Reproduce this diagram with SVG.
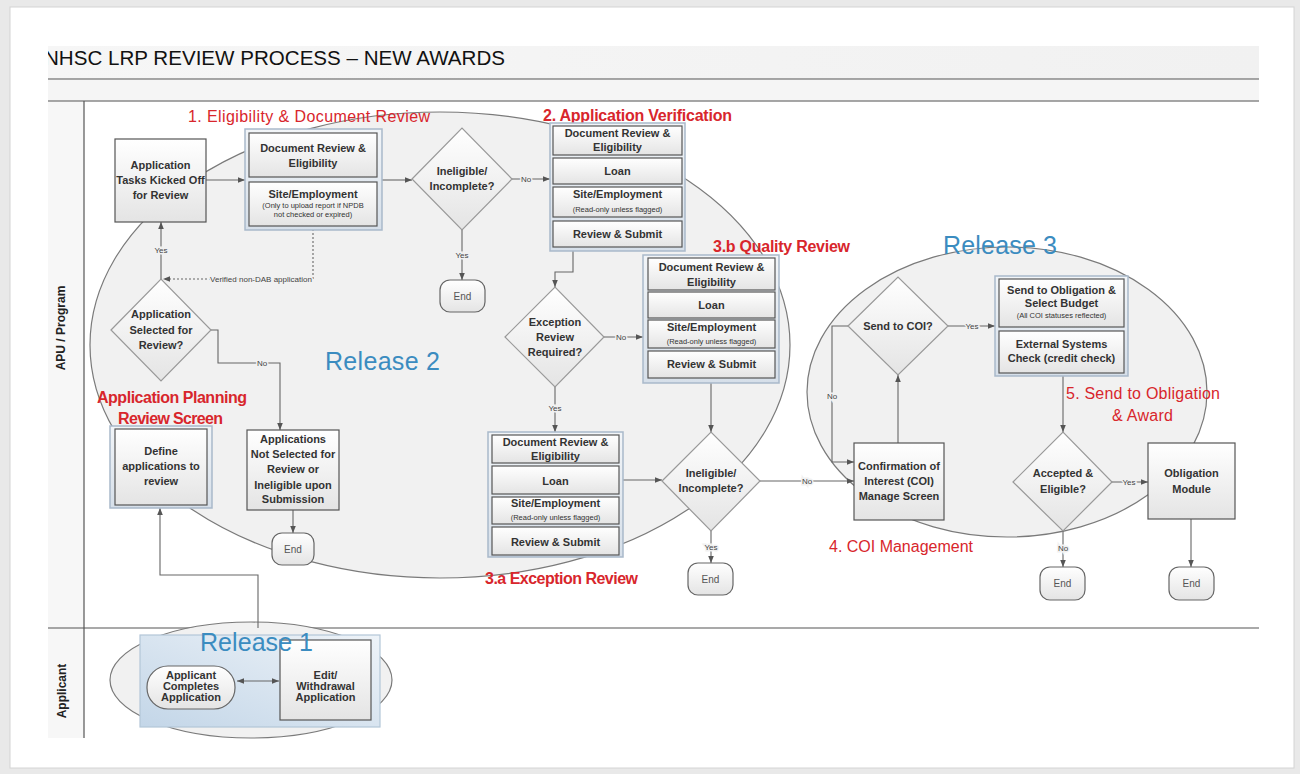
<svg xmlns="http://www.w3.org/2000/svg" width="1300" height="774" viewBox="0 0 1300 774">
<defs>
<linearGradient id="nodeG" x1="0" y1="0" x2="0" y2="1"><stop offset="0" stop-color="#ffffff"/><stop offset="1" stop-color="#e4e4e4"/></linearGradient>
<linearGradient id="grpG" x1="0" y1="0" x2="0" y2="1"><stop offset="0" stop-color="#f2f5f8"/><stop offset="1" stop-color="#d6dfe9"/></linearGradient>
<linearGradient id="r1G" x1="1" y1="0" x2="0" y2="1"><stop offset="0" stop-color="#eef3f8"/><stop offset="1" stop-color="#c3d6e8"/></linearGradient>
<linearGradient id="bandG" x1="0" y1="0" x2="1" y2="0"><stop offset="0" stop-color="#f6f6f6"/><stop offset="1" stop-color="#f1f1f1"/></linearGradient>
<marker id="ah" viewBox="0 0 10 10" refX="10" refY="5" markerWidth="7" markerHeight="7" markerUnits="userSpaceOnUse" orient="auto-start-reverse"><path d="M0,1 L10,5 L0,9 z" fill="#555"/></marker>
<clipPath id="titleClip"><rect x="48" y="30" width="1220" height="50"/></clipPath>
<style>
.ln{fill:none;stroke:#666;stroke-width:1.1}
.dash{fill:none;stroke:#666;stroke-width:1.1;stroke-dasharray:2 2}
.box{fill:url(#nodeG);stroke:#555;stroke-width:1.2}
.grp{fill:url(#grpG);stroke:#a9b9ca;stroke-width:1.5}
.dia{fill:url(#nodeG);stroke:#999;stroke-width:1.2}
.end{fill:url(#nodeG);stroke:#666;stroke-width:1.2}
.ell{fill:#f1f1f1;stroke:#7a7a7a;stroke-width:1.2}
.t{font-family:"Liberation Sans",Arial,sans-serif;font-weight:bold;font-size:11px;fill:#333;text-anchor:middle}
.s{font-weight:normal;font-size:7.5px}
.e{font-weight:normal;font-size:10px;fill:#555}
.lbl{font-family:"Liberation Sans",Arial,sans-serif;font-size:8px;fill:#444;text-anchor:middle;stroke:#f1f1f1;stroke-width:3;paint-order:stroke}
.red{font-family:"Liberation Sans",Arial,sans-serif;font-size:16px;fill:#d8262c}
.rb{font-weight:bold}
.rel{font-family:"Liberation Sans",Arial,sans-serif;font-size:25px;fill:#3b8cc0}
.lane{font-family:"Liberation Sans",Arial,sans-serif;font-weight:bold;font-size:12px;fill:#222;text-anchor:middle}
</style>
</defs>

<!-- page -->
<rect x="0" y="0" width="1300" height="774" fill="#e9e9e9"/>
<rect x="10" y="7" width="1284" height="761" fill="#ffffff" stroke="#d4d4d4" stroke-width="1"/>

<!-- title band -->
<rect x="48" y="46" width="1211" height="33" fill="url(#bandG)"/>
<rect x="48" y="80" width="1211" height="21" fill="#f5f5f5"/>
<text x="44" y="65" clip-path="url(#titleClip)" font-family="'Liberation Sans',Arial,sans-serif" font-size="20.5" fill="#111" textLength="461" lengthAdjust="spacingAndGlyphs">NHSC LRP REVIEW PROCESS – NEW AWARDS</text>
<line x1="48" y1="79" x2="1259" y2="79" stroke="#888" stroke-width="1.6"/>
<line x1="48" y1="101" x2="1259" y2="101" stroke="#888" stroke-width="1.6"/>

<!-- lanes -->
<g id="lanes">
<rect x="48" y="102" width="36" height="636" fill="#f7f7f7"/>
<line x1="84" y1="101" x2="84" y2="738" stroke="#555" stroke-width="1.2"/>
<line x1="48" y1="628" x2="1259" y2="628" stroke="#555" stroke-width="1.2"/>
<text class="lane" transform="translate(65,328) rotate(-90)">APU / Program</text>
<text class="lane" transform="translate(66,691) rotate(-90)">Applicant</text>
</g>

<!-- release regions -->
<g id="release2-region"><ellipse class="ell" cx="440" cy="345" rx="350" ry="233"/></g>
<g id="release3-region"><ellipse class="ell" cx="1007" cy="392" rx="200" ry="145"/></g>
<g id="release1-region">
<ellipse class="ell" cx="251" cy="680" rx="141" ry="58" fill="#f5f5f5"/>
<rect x="140" y="635" width="240" height="92" fill="url(#r1G)" stroke="#b3c6d8" stroke-width="1.2"/>
</g>

<!-- section labels -->
<g id="labels">
<text class="red" x="188" y="122" textLength="242">1. Eligibility &amp; Document Review</text>
<text class="red rb" x="543" y="121" textLength="189">2. Application Verification</text>
<text class="red rb" x="713" y="252" textLength="137">3.b Quality Review</text>
<text class="red rb" x="485" y="584" textLength="153">3.a Exception Review</text>
<text class="red" x="829" y="552" textLength="144">4. COI Management</text>
<text class="red" x="1066" y="399" textLength="154">5. Send to Obligation</text>
<text class="red" x="1112" y="421" textLength="61">&amp; Award</text>
<text class="red rb" x="97" y="403" textLength="150">Application Planning</text>
<text class="red rb" x="118" y="424" textLength="105">Review Screen</text>
<text class="rel" x="325" y="370" textLength="115">Release 2</text>
<text class="rel" x="943" y="254" textLength="114">Release 3</text>
</g>

<!-- connectors -->
<g id="connectors">
<path class="ln" d="M206,180 H245" marker-end="url(#ah)"/>
<path class="ln" d="M382,180 H412" marker-end="url(#ah)"/>
<path class="ln" d="M512,179 H550" marker-end="url(#ah)"/>
<text class="lbl" x="526" y="182">No</text>
<path class="ln" d="M462,230 V280" marker-end="url(#ah)"/>
<text class="lbl" x="462" y="258">Yes</text>
<path class="ln" d="M573,251 V272 H555 V287" marker-end="url(#ah)"/>
<path class="ln" d="M604,337 H643" marker-end="url(#ah)"/>
<text class="lbl" x="621" y="340">No</text>
<path class="ln" d="M555,387 V432" marker-end="url(#ah)"/>
<text class="lbl" x="555" y="411">Yes</text>
<path class="ln" d="M711,383 V432" marker-end="url(#ah)"/>
<path class="ln" d="M623,480 H662" marker-end="url(#ah)"/>
<path class="ln" d="M711,531 V563" marker-end="url(#ah)"/>
<text class="lbl" x="711" y="550" stroke="#fbfbfb">Yes</text>
<path class="ln" d="M760,481 H854" marker-end="url(#ah)"/>
<text class="lbl" x="807" y="484" stroke="#fbfbfb">No</text>
<path class="ln" d="M898,443 V375" marker-end="url(#ah)"/>
<path class="ln" d="M948,326 H995" marker-end="url(#ah)"/>
<text class="lbl" x="972" y="329">Yes</text>
<path class="ln" d="M848,326 H832 V462 H854" marker-end="url(#ah)"/>
<text class="lbl" x="832" y="399">No</text>
<path class="ln" d="M1063,376 V432" marker-end="url(#ah)"/>
<path class="ln" d="M1112,482 H1148" marker-end="url(#ah)"/>
<text class="lbl" x="1129" y="485">Yes</text>
<path class="ln" d="M1063,531 V567" marker-end="url(#ah)"/>
<text class="lbl" x="1063" y="551" stroke="#fbfbfb">No</text>
<path class="ln" d="M1191,519 V567" marker-end="url(#ah)"/>
<path class="ln" d="M161,279 V222" marker-end="url(#ah)"/>
<text class="lbl" x="161" y="253">Yes</text>
<path class="dash" d="M313,229 V279 H163" marker-end="url(#ah)"/>
<text class="lbl" x="261" y="282">Verified non-DAB application</text>
<path class="ln" d="M211,330 H218 V363 H280 V430" marker-end="url(#ah)"/>
<text class="lbl" x="262" y="366">No</text>
<path class="ln" d="M293,510 V533" marker-end="url(#ah)"/>
<path class="ln" d="M258,628 V575 H160 V508" marker-end="url(#ah)"/>
<path class="ln" d="M237,681 H279" marker-start="url(#ah)" marker-end="url(#ah)"/>
</g>

<!-- nodes: Release 2 -->
<g id="tasks-kicked-off">
<rect class="box" x="115" y="139" width="91" height="83"/>
<text class="t" x="160.5" y="169">Application</text>
<text class="t" x="160.5" y="184">Tasks Kicked Off</text>
<text class="t" x="160.5" y="199">for Review</text>
</g>

<g id="group1-doc-review">
<rect class="grp" x="245" y="129" width="137" height="101"/>
<rect class="box" x="249" y="133" width="128" height="44"/>
<text class="t" x="313" y="152">Document Review &amp;</text>
<text class="t" x="313" y="167">Eligibility</text>
<rect class="box" x="249" y="182" width="128" height="44"/>
<text class="t" x="313" y="198" font-size="11.5">Site/Employment</text>
<text class="t s" x="313" y="208">(Only to upload report if NPDB</text>
<text class="t s" x="313" y="217">not checked or expired)</text>
</g>

<g id="dia-ineligible-1">
<polygon class="dia" points="412,179 462,128 512,179 462,230"/>
<text class="t" x="462" y="175">Ineligible/</text>
<text class="t" x="462" y="190">Incomplete?</text>
</g>

<g id="end-1">
<rect class="end" x="440" y="280" width="45" height="32" rx="10"/>
<text class="t e" x="462.5" y="299.5">End</text>
</g>

<g id="group2-app-verification">
<rect class="grp" x="550" y="123" width="135" height="128"/>
<rect class="box" x="553" y="126" width="129" height="29"/>
<text class="t" x="617.5" y="137">Document Review &amp;</text>
<text class="t" x="617.5" y="151">Eligibility</text>
<rect class="box" x="553" y="158" width="129" height="26"/>
<text class="t" x="617.5" y="175">Loan</text>
<rect class="box" x="553" y="187" width="129" height="30"/>
<text class="t" x="617.5" y="198">Site/Employment</text>
<text class="t s" x="617.5" y="212">(Read-only unless flagged)</text>
<rect class="box" x="553" y="221" width="129" height="26"/>
<text class="t" x="617.5" y="238">Review &amp; Submit</text>
</g>

<g id="dia-exception">
<polygon class="dia" points="505,337 555,287 604,337 555,387"/>
<text class="t" x="555" y="326">Exception</text>
<text class="t" x="555" y="341">Review</text>
<text class="t" x="555" y="356">Required?</text>
</g>

<g id="group3b-quality-review">
<rect class="grp" x="643" y="255" width="136" height="128"/>
<rect class="box" x="648" y="258" width="127" height="32"/>
<text class="t" x="711.5" y="271">Document Review &amp;</text>
<text class="t" x="711.5" y="286">Eligibility</text>
<rect class="box" x="648" y="292" width="127" height="26"/>
<text class="t" x="711.5" y="309">Loan</text>
<rect class="box" x="648" y="320" width="127" height="28"/>
<text class="t" x="711.5" y="331">Site/Employment</text>
<text class="t s" x="711.5" y="344">(Read-only unless flagged)</text>
<rect class="box" x="648" y="351" width="127" height="27"/>
<text class="t" x="711.5" y="368">Review &amp; Submit</text>
</g>

<g id="group3a-exception-review">
<rect class="grp" x="488" y="432" width="135" height="125"/>
<rect class="box" x="492" y="435" width="127" height="28"/>
<text class="t" x="555.5" y="446">Document Review &amp;</text>
<text class="t" x="555.5" y="460">Eligibility</text>
<rect class="box" x="492" y="466" width="127" height="28"/>
<text class="t" x="555.5" y="485">Loan</text>
<rect class="box" x="492" y="497" width="127" height="27"/>
<text class="t" x="555.5" y="507">Site/Employment</text>
<text class="t s" x="555.5" y="520">(Read-only unless flagged)</text>
<rect class="box" x="492" y="527" width="127" height="28"/>
<text class="t" x="555.5" y="546">Review &amp; Submit</text>
</g>

<g id="dia-ineligible-2">
<polygon class="dia" points="662,481 711,432 760,481 711,531"/>
<text class="t" x="711" y="477">Ineligible/</text>
<text class="t" x="711" y="492">Incomplete?</text>
</g>

<g id="end-2">
<rect class="end" x="688" y="563" width="45" height="32" rx="10"/>
<text class="t e" x="710.5" y="582.5">End</text>
</g>

<g id="dia-selected">
<polygon class="dia" points="111,330 161,279 211,330 161,381"/>
<text class="t" x="161" y="318">Application</text>
<text class="t" x="161" y="334">Selected for</text>
<text class="t" x="161" y="349">Review?</text>
</g>

<g id="define-apps">
<rect class="grp" x="110" y="426" width="102" height="82"/>
<rect class="box" x="115" y="429" width="92" height="76"/>
<text class="t" x="161" y="455">Define</text>
<text class="t" x="161" y="470">applications to</text>
<text class="t" x="161" y="485">review</text>
</g>

<g id="not-selected">
<rect class="box" x="247" y="430" width="92" height="80"/>
<text class="t" x="293" y="443">Applications</text>
<text class="t" x="293" y="458">Not Selected for</text>
<text class="t" x="293" y="473">Review or</text>
<text class="t" x="293" y="489">Ineligible upon</text>
<text class="t" x="293" y="503">Submission</text>
</g>

<g id="end-3">
<rect class="end" x="272" y="533" width="42" height="32" rx="10"/>
<text class="t e" x="293" y="552.5">End</text>
</g>

<!-- Release 3 nodes -->
<g id="coi-manage">
<rect class="box" x="854" y="443" width="90" height="77"/>
<text class="t" x="899" y="470">Confirmation of</text>
<text class="t" x="899" y="485">Interest (COI)</text>
<text class="t" x="899" y="500">Manage Screen</text>
</g>

<g id="dia-send-coi">
<polygon class="dia" points="848,326 898,277 948,326 898,375"/>
<text class="t" x="898" y="330">Send to COI?</text>
</g>

<g id="group5-obligation">
<rect class="grp" x="995" y="276" width="133" height="100"/>
<rect class="box" x="999" y="279" width="125" height="48"/>
<text class="t" x="1061.5" y="294">Send to Obligation &amp;</text>
<text class="t" x="1061.5" y="307">Select Budget</text>
<text class="t s" x="1061.5" y="318" font-size="7">(All COI statuses reflected)</text>
<rect class="box" x="999" y="331" width="125" height="42"/>
<text class="t" x="1061.5" y="348">External Systems</text>
<text class="t" x="1061.5" y="362">Check (credit check)</text>
</g>

<g id="dia-accepted">
<polygon class="dia" points="1013,482 1063,432 1112,482 1063,531"/>
<text class="t" x="1063" y="477">Accepted &amp;</text>
<text class="t" x="1063" y="493">Eligible?</text>
</g>

<g id="obligation-module">
<rect class="box" x="1148" y="443" width="87" height="76"/>
<text class="t" x="1191.5" y="477">Obligation</text>
<text class="t" x="1191.5" y="493">Module</text>
</g>

<g id="end-4">
<rect class="end" x="1040" y="567" width="45" height="33" rx="10"/>
<text class="t e" x="1062.5" y="587">End</text>
</g>

<g id="end-5">
<rect class="end" x="1169" y="567" width="45" height="33" rx="10"/>
<text class="t e" x="1191.5" y="587">End</text>
</g>

<!-- Release 1 nodes -->
<g id="applicant-completes">
<rect class="end" x="147" y="666" width="88" height="43" rx="21"/>
<text class="t" x="191" y="679" font-size="10">Applicant</text>
<text class="t" x="191" y="690" font-size="10">Completes</text>
<text class="t" x="191" y="701" font-size="10">Application</text>
</g>

<g id="edit-withdrawal">
<rect class="box" x="280" y="640" width="91" height="80"/>
<text class="t" x="325.5" y="679" font-size="10">Edit/</text>
<text class="t" x="325.5" y="690" font-size="10">Withdrawal</text>
<text class="t" x="325.5" y="701" font-size="10">Application</text>
</g>

<g id="release1-label">
<text class="rel" x="200" y="651" textLength="113">Release 1</text>
</g>
</svg>
